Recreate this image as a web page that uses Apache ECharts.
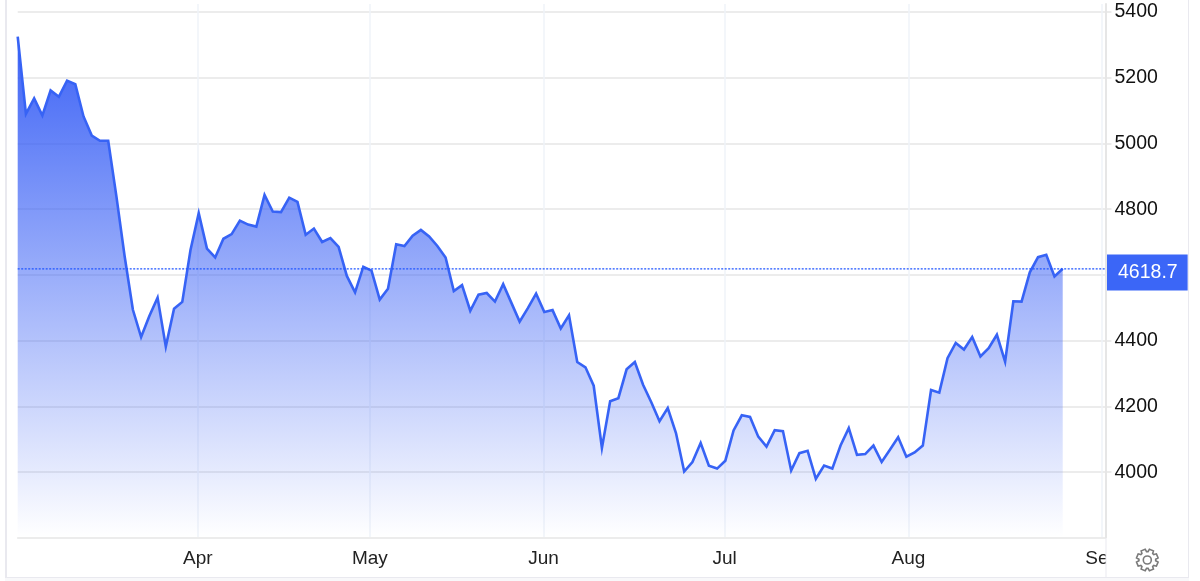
<!DOCTYPE html>
<html>
<head>
<meta charset="utf-8">
<style>html,body{margin:0;padding:0;background:#fff}#c{width:1200px;height:581px}</style>
<script src="https://cdn.jsdelivr.net/npm/echarts@6/dist/echarts.min.js"></script>
</head>
<body>
<div id="c"></div>
<script>
const values = [5325,5090,5137,5085,5161,5142,5191,5180,5082,5024,5008,5008,4838,4656,4494,4411,4475,4531,4382,4497,
4518,4676,4788,4680,4653,4710,4724,4765,4753,4747,4843,4793,4791,4835,4822,4722,4741,4700,4712,4685,
4597,4547,4625,4613,4525,4558,4693,4688,4719,4737,4717,4688,4653,4551,4569,4491,4540,4545,4519,4572,
4515,4458,4499,4543,4487,4493,4437,4477,4335,4319,4263,4074,4216,4225,4313,4335,4266,4213,4155,4195,
4119,4002,4031,4089,4020,4011,4035,4127,4173,4168,4108,4078,4128,4125,4005,4058,4065,3980,4020,4011,
4081,4134,4053,4055,4081,4031,4068,4106,4047,4060,4081,4250,4242,4347,4393,4373,4411,4352,4377,4418,
4336,4520,4519,4608,4654,4661,4595,4618.7];
const monthLabels = ['Apr','May','Jun','Jul','Aug','Sep'];
const monthTicks = [21.9,42.8,63.9,85.9,108.25,131.8];
const priceTicks = [4000,4200,4400,4600,4800,5000,5200,5400];
const lastPrice = 4618.7;
const xEnd = 132.2;
const font = '"Liberation Sans", Arial, sans-serif';

function gearPoints(cx, cy) {
  const n = 8, ro = 11, ri = 8.4, pts = [];
  for (let k = 0; k < n; k++) {
    const a = k * 2 * Math.PI / n + Math.PI / 8, w = 0.2, v = 0.3;
    [[ri,a-v],[ro,a-w],[ro,a+w],[ri,a+v]].forEach(p =>
      pts.push([cx + p[0]*Math.cos(p[1]), cy + p[0]*Math.sin(p[1])]));
  }
  return pts;
}
const chart = echarts.init(document.getElementById('c'), null, {renderer:'canvas'});
const frame = '#e9e9ef';
chart.setOption({
  animation:false,
  backgroundColor:'#fff',
  color:['#3b66f7'],
  textStyle:{fontFamily:font},
  grid:{left:17.7,right:94.5,top:4,bottom:43.7,containLabel:false},
  xAxis:{
    type:'value',min:0,max:xEnd,
    axisLine:{show:true,onZero:false,lineStyle:{color:'#e6e6e6',width:1.5}},
    axisTick:{show:false,customValues:monthTicks},
    axisLabel:{customValues:monthTicks,margin:11.5,fontSize:19,color:'#222',fontFamily:font,hideOverlap:false,
      showMinLabel:true,showMaxLabel:true,
      formatter:v=>{const i=monthTicks.indexOf(v);return i<0?'':monthLabels[i];}},
    splitLine:{show:true,lineStyle:{color:'#eff3f8',width:1.5}}
  },
  yAxis:{
    type:'value',position:'right',min:3802,max:5424,
    axisLine:{show:true,onZero:false,lineStyle:{color:'#e6e6e6',width:2}},
    axisTick:{show:true,length:6,customValues:priceTicks,lineStyle:{color:'#e6e6e6',width:1.5}},
    axisLabel:{customValues:priceTicks,margin:9,fontSize:19.5,color:'#111',fontFamily:font,
      formatter:v=>String(v)},
    splitLine:{show:true,lineStyle:{color:'#e6e6e6',width:1.5}}
  },
  series:[{
    type:'line',
    data:values.map((v,i)=>[i,v]),
    symbol:'none',
    clip:false,
    itemStyle:{color:'#3b66f7'},
    lineStyle:{color:'#3763f5',width:2.6,join:'miter'},
    areaStyle:{origin:'start',opacity:1,color:new echarts.graphic.LinearGradient(0,0,0,1,[
      {offset:0,color:'rgba(50,90,245,0.95)'},
      {offset:0.5,color:'rgba(50,90,245,0.47)'},
      {offset:1,color:'rgba(50,90,245,0)'}])}
  },{
    type:'line',
    data:[[0,lastPrice],[xEnd,lastPrice]],
    symbol:'none',
    z:5,
    silent:true,
    lineStyle:{color:'#1f55ff',type:[2,1.5],width:1.2},
    endLabel:{show:true,distance:1.5,offset:[0,3.7],formatter:()=>lastPrice.toFixed(1),
      color:'#fff',backgroundColor:'#3b66f7',fontSize:19.5,fontFamily:font,padding:[8,10,8,11]}
  }],
  graphic:{elements:[
    {type:'rect',z:100,shape:{x:1106,y:540,width:20,height:34},style:{fill:'#fff'}},
    {type:'rect',z:101,shape:{x:1105.5,y:538,width:1,height:39},style:{fill:'#e9e9ef'}},
    {type:'rect',z:101,shape:{x:5,y:0,width:2,height:577},style:{fill:frame}},
    {type:'rect',z:101,shape:{x:1188,y:0,width:1,height:577},style:{fill:frame}},
    {type:'rect',z:101,shape:{x:5,y:577,width:1184,height:1},style:{fill:frame}},
    {type:'rect',z:100,shape:{x:5,y:578,width:1184,height:3},style:{fill:'#f8f8fa'}},
    {type:'polygon',z:101,shape:{points:gearPoints(1147.3,560)},style:{fill:'none',stroke:'#7a7a7a',lineWidth:1.6}},
    {type:'circle',z:101,shape:{cx:1147.3,cy:560,r:4},style:{fill:'none',stroke:'#7a7a7a',lineWidth:1.6}}
  ]}
});
</script>
</body>
</html>
